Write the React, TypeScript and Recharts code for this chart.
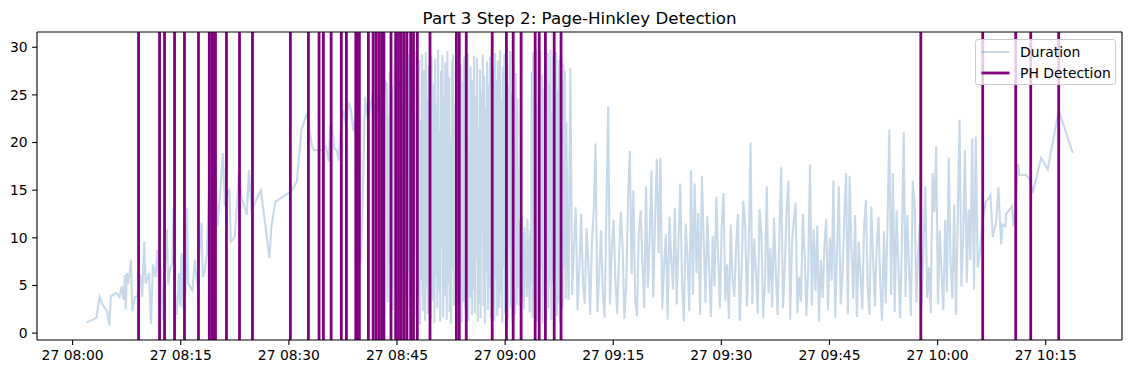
import { Legend, Line, LineChart, ReferenceLine, XAxis, YAxis } from "recharts";

const FONT = "DejaVu Sans, Liberation Sans, sans-serif";

// minutes after 27 08:00
const earlyMinutes = [
  1.9, 3.3, 3.75, 4.2, 4.8, 5.1, 5.3, 6.05, 6.5, 6.8, 7.07, 7.26, 7.35, 7.54, 7.72, 7.9, 8.1, 8.27, 8.65, 9.0,
  9.38, 9.66, 9.94, 10.12, 10.3, 10.6, 10.87, 11.14, 11.5, 11.78, 11.97, 12.25, 12.53, 12.8, 13.08, 13.26, 13.54,
  13.82, 14.0, 14.19, 14.47, 14.75, 14.93, 15.11, 15.3, 15.48, 15.67, 15.86, 16.04, 16.6, 16.96, 17.24, 17.6,
  17.88, 18.07, 18.35, 18.63, 18.9, 19.18, 19.46, 19.82, 20.1, 20.47, 20.84, 21.12, 21.48, 21.76, 21.95, 22.5,
  22.79, 23.06, 23.43, 24.17, 24.45, 24.81, 26.11, 26.75, 27.3, 27.58, 28.14, 30.35, 31.1, 31.74, 32.49, 33.22,
  33.5, 33.96, 34.61, 35.16, 35.54, 35.72, 35.95, 36.3, 36.64, 36.9, 37.1, 37.56, 37.9, 38.26, 38.6, 38.95, 39.3,
  39.64, 40.0, 40.3, 40.57, 40.9, 41.26, 41.6, 41.9, 42.19, 42.5, 42.8, 43.1, 43.4,
];
const earlyValues = [
  1.1, 1.6, 3.8, 2.9, 2.3, 0.8, 3.9, 4.2, 3.8, 4.9, 3.5, 6.1, 2.5, 6.3, 5.2, 6.3, 7.7, 2.3, 3.8, 3.9,
  6.2, 3.8, 9.6, 5.2, 5.6, 6.3, 1.0, 7.2, 5.9, 8.8, 4.9, 6.8, 1.4, 6.7, 10.9, 5.1, 6.8,
  7.3, 13.1, 4.5, 1.9, 6.3, 2.8, 8.4, 2.6, 11.9, 4.2, 13.1, 5.2, 4.5, 7.7, 5.2, 8.4,
  11.6, 5.9, 6.6, 8.4, 14.7, 11.9, 13.6, 16.4, 11.2, 14.7, 18.9, 13.3, 14.7, 15.0, 9.6, 10.1,
  13.5, 16.8, 14.3, 12.4, 17.1, 12.9, 15.0, 11.2, 7.9, 11.2, 13.8, 14.9, 15.9, 21.3, 23.1, 19.6,
  19.2, 19.2, 19.2, 19.6, 18.0, 21.7, 21.9, 19.4, 19.2, 18.1, 20.5, 23.4, 22.0, 24.2, 23.5, 21.2, 22.8,
  20.1, 7.3, 16.0, 24.8, 22.6, 23.4, 25.1, 22.4, 23.0, 25.4, 21.8, 24.0, 26.4,
];

// dense burst, one reading every 0.1 min from 08:43.6
const burstStart = 43.6;
const burstStep = 0.1;
const burstValues = [
  26.1, 3.2, 22.8, 7.5, 27.4, 1.8, 18.6, 5.1, 25.9, 2.4,
  28.3, 4.6, 21.7, 1.2, 27.8, 9.3, 29.1, 3.0, 16.4, 1.6,
  28.9, 5.8, 24.3, 2.1, 29.4, 11.2, 3.6, 27.2, 1.4, 20.8,
  6.4, 29.2, 2.7, 25.6, 13.9, 1.1, 28.5, 4.2, 23.1, 8.7,
  29.6, 1.9, 26.8, 3.8, 17.5, 28.7, 0.9, 22.4, 5.5, 29.3,
  2.3, 27.6, 10.4, 1.3, 29.5, 4.9, 24.7, 2.0, 28.1, 7.2,
  19.8, 1.5, 29.0, 3.4, 26.2, 12.6, 1.0, 28.8, 6.1, 23.9,
  2.6, 29.7, 4.4, 21.3, 1.2, 27.5, 8.9, 29.2, 1.7, 25.0,
  3.9, 28.4, 15.2, 1.4, 29.6, 5.3, 26.9, 2.2, 20.5, 1.0,
  28.6, 6.8, 29.3, 2.9, 24.1, 11.7, 1.6, 27.9, 4.0, 29.5,
  1.8, 22.7, 7.4, 28.2, 1.1, 26.4, 3.3, 29.0, 13.4, 2.5,
  27.1, 5.0, 29.4, 1.3, 18.9, 3.7, 28.0, 9.6, 1.9, 26.6,
  4.5, 29.1, 2.1, 24.8, 7.9, 28.9, 1.2, 21.6, 3.1, 27.7,
  1.6, 25.3, 10.8, 29.2, 2.8, 27.0, 1.0, 23.5, 6.3, 28.5,
  2.4, 26.1, 4.8, 29.0, 1.5, 19.7, 3.6, 27.8, 8.2, 1.3,
  29.4, 5.7, 26.5, 1.8, 28.6, 12.1, 2.6, 29.7, 4.1, 24.4,
  1.1, 27.9, 7.0, 29.3, 2.0, 22.9, 3.5, 28.4, 1.4, 26.0,
  9.1, 29.6, 2.7, 25.2, 1.2, 28.8, 5.6, 20.3, 1.9, 27.3,
  3.0, 24.6, 4.7, 11.8, 2.9, 9.4, 5.8, 12.3, 3.4, 10.6,
  2.5, 11.1, 6.2, 8.7, 3.8, 12.0, 4.6, 9.9, 2.2, 10.8,
  5.1, 27.4, 1.6, 29.5, 3.3, 26.7, 7.6, 29.8, 1.2, 24.0,
  4.3, 28.9, 2.1, 29.6, 6.7, 27.2, 1.0, 25.8, 3.9, 29.9,
  1.7, 28.1, 10.2, 29.4, 2.6, 26.3, 4.9, 29.7, 1.4, 23.2,
  5.4, 29.2, 2.3, 27.6, 8.0, 29.5, 1.8, 25.5, 3.2, 28.7,
  1.1, 29.1, 4.6, 26.9, 2.7, 28.3, 6.9, 27.5, 3.6, 22.1,
  12.8,
];

// steady stretch, one reading every 0.25 min from 09:08.8
const steadyStart = 68.8;
const steadyStep = 0.25;
const steadyValues = [
  3.5, 27.8, 4.0, 9.2, 13.2, 2.4, 6.8, 12.5, 5.3, 3.1,
  11.0, 7.4, 1.9, 9.6, 13.0, 19.9, 2.2, 6.1, 10.8, 4.4,
  1.6, 12.8, 23.8, 3.0, 8.7, 11.9, 5.6, 2.0, 7.8, 12.7,
  9.1, 1.5, 4.9, 13.9, 19.1, 6.2, 15.0, 3.4, 1.8, 10.6,
  12.9, 7.3, 2.6, 15.4, 4.8, 9.9, 17.1, 3.7, 11.6, 18.3,
  8.4, 18.4, 2.5, 6.9, 10.4, 1.4, 12.2, 7.6, 4.6, 13.1,
  3.0, 9.5, 15.7, 5.1, 1.2, 11.5, 8.0, 2.3, 17.1, 4.0,
  15.7, 6.3, 12.6, 1.9, 16.5, 9.8, 3.2, 12.3, 6.7, 1.7,
  10.2, 4.9, 14.3, 8.1, 2.6, 11.3, 14.7, 3.4, 7.2, 1.5,
  11.4, 5.7, 3.8, 9.1, 12.5, 1.3, 6.0, 13.9, 11.7, 2.8,
  8.8, 20.0, 3.1, 9.9, 6.4, 2.0, 13.0, 10.6, 1.6, 5.2,
  15.4, 4.2, 8.9, 2.7, 12.1, 6.5, 1.9, 10.3, 17.4, 2.6,
  7.0, 12.7, 16.0, 1.4, 9.4, 11.8, 13.7, 2.1, 5.9, 3.3,
  12.5, 8.3, 1.8, 6.8, 17.7, 2.9, 10.9, 4.4, 11.3, 1.2,
  7.7, 3.7, 9.2, 12.0, 2.4, 10.0, 5.5, 16.0, 1.6, 8.6,
  15.4, 3.0, 6.1, 11.9, 16.8, 2.0, 16.5, 8.8, 3.6, 12.4,
  1.7, 9.6, 6.3, 2.5, 11.1, 14.0, 4.7, 1.9, 13.3, 7.9,
  2.8, 9.0, 12.2, 5.0, 1.3, 10.7, 3.1, 11.6, 21.4, 4.0,
  16.8, 2.2, 12.9, 7.1, 1.6, 9.7, 21.1, 3.8, 12.4, 6.6,
  1.8, 16.0, 13.8, 3.2, 8.5, 11.5, 2.9, 9.5, 15.4, 3.7,
  6.9, 2.1, 16.8, 12.7, 19.6, 3.0, 10.8, 6.2, 2.4, 11.9,
  4.3, 18.4, 7.4, 3.6, 13.5, 1.9, 12.3, 22.4, 4.9, 9.8,
  19.2, 5.3, 13.0, 7.7, 20.4, 4.6, 20.6, 6.9, 8.0,
];

const tailMinutes = [
  126.27, 126.7, 126.96, 127.33, 127.65, 128.12, 128.44, 128.81, 129.0, 129.41, 129.5, 130.33, 130.52,
  130.8, 131.17, 131.35, 132.28, 132.88, 133.2, 134.36, 135.28, 136.8, 138.74,
];
const tailValues = [
  11.9, 13.8, 14.0, 14.5, 10.1, 11.7, 15.3, 9.3, 11.4, 11.2, 12.5, 13.3, 11.2,
  13.1, 17.8, 16.6, 16.6, 16.0, 14.7, 18.4, 17.2, 23.4, 18.9,
];

const detectionMinutes = [
  9.15, 12.06, 12.75, 14.14, 15.52, 17.46, 18.96, 19.3, 19.62, 19.82, 21.34, 23.15, 24.95, 30.21, 32.71,
  34.19, 34.79, 35.86, 37.28, 37.98, 39.28, 39.53, 39.78, 41.03, 41.69, 42.08, 42.47, 42.86, 43.19, 44.17,
  44.82, 45.21, 45.6, 45.99, 46.38, 46.9, 47.29, 47.82, 49.58, 53.24, 53.64, 54.61, 58.21, 60.18, 61.12,
  62.22, 64.17, 64.73, 65.59, 66.81, 67.76, 117.67, 126.26, 130.84, 132.92, 136.8,
];

const xTicks = [0, 15, 30, 45, 60, 75, 90, 105, 120, 135];
const xTickLabels = [
  "27 08:00", "27 08:15", "27 08:30", "27 08:45", "27 09:00",
  "27 09:15", "27 09:30", "27 09:45", "27 10:00", "27 10:15",
];
const yTicks = [0, 5, 10, 15, 20, 25, 30];
const legendLabels = ["Duration", "PH Detection"];

const data = [
  ...earlyMinutes.map((t, i) => ({ t, duration: earlyValues[i] })),
  ...burstValues.map((v, i) => ({ t: +(burstStart + i * burstStep).toFixed(2), duration: v })),
  ...steadyValues.map((v, i) => ({ t: +(steadyStart + i * steadyStep).toFixed(2), duration: v })),
  ...tailMinutes.map((t, i) => ({ t, duration: tailValues[i] })),
];

const tFirst = data[0].t;
const tLast = data[data.length - 1].t;
const tPad = (tLast - tFirst) * 0.05;
const xDomain = [tFirst - tPad, tLast + tPad];
const yDomain = [-0.72, 31.6];

const DUR_COLOR = "#4682b4";
const PH_COLOR = "#800080";

function LegendBox() {
  const rows = [
    { color: DUR_COLOR, opacity: 0.3, width: 2.1 },
    { color: PH_COLOR, opacity: 1, width: 2.8 },
  ];
  return (
    <div
      style={{
        position: "relative",
        width: 139,
        height: 44,
        background: "rgba(255,255,255,0.8)",
        border: "1px solid #cccccc",
        borderRadius: 3,
        fontFamily: FONT,
        fontSize: 13.9,
        color: "#000",
      }}
    >
      {legendLabels.map((label, i) => (
        <div key={label} style={{ position: "absolute", left: 0, top: 4 + i * 20.7, height: 16, width: 139 }}>
          <svg width={30} height={16} style={{ position: "absolute", left: 5, top: 0 }}>
            <line x1={0.5} x2={28.5} y1={8} y2={8} stroke={rows[i].color} strokeOpacity={rows[i].opacity} strokeWidth={rows[i].width} />
          </svg>
          <span style={{ position: "absolute", left: 44, top: 0, lineHeight: "16px", whiteSpace: "nowrap" }}>{label}</span>
        </div>
      ))}
    </div>
  );
}

export default function App() {
  const tickStyle = { fontFamily: FONT, fontSize: 13.9, fill: "#000" };
  const frame = { stroke: "#000", strokeWidth: 1.1 };
  return (
    <div style={{ position: "absolute", left: 0, top: 0, width: 1132, height: 374, background: "#fff" }}>
      <svg width={1132} height={32} style={{ position: "absolute", left: 0, top: 0 }}>
        <text x={579.6} y={23.5} textAnchor="middle" fontFamily={FONT} fontSize={16.7} fill="#000">
          Part 3 Step 2: Page-Hinkley Detection
        </text>
      </svg>
      <LineChart width={1132} height={374} data={data} margin={{ top: 32, right: 10, bottom: 4, left: 0 }}>
        <XAxis
          dataKey="t"
          type="number"
          domain={xDomain}
          allowDataOverflow
          ticks={xTicks}
          interval={0}
          tickFormatter={(v: number) => xTickLabels[xTicks.indexOf(v)] ?? ""}
          height={30}
          tickSize={4.9}
          tickMargin={5.7}
          tick={tickStyle}
          axisLine={frame}
          tickLine={frame}
        />
        <YAxis
          type="number"
          domain={yDomain}
          allowDataOverflow
          ticks={yTicks}
          interval={0}
          width={37}
          tickSize={4.9}
          tickMargin={4.5}
          tick={tickStyle}
          axisLine={frame}
          tickLine={frame}
        />
        <Line
          type="linear"
          dataKey="duration"
          name="Duration"
          stroke={DUR_COLOR}
          strokeOpacity={0.3}
          strokeWidth={2.1}
          dot={false}
          activeDot={false}
          isAnimationActive={false}
        />
        {detectionMinutes.map((m) => (
          <ReferenceLine key={m} x={m} stroke={PH_COLOR} strokeWidth={2.8} ifOverflow="hidden" />
        ))}
        {/* top and right spines */}
        <ReferenceLine y={yDomain[1]} stroke="#000" strokeWidth={1.1} />
        <ReferenceLine x={xDomain[1]} stroke="#000" strokeWidth={1.1} />
        <Legend
          layout="horizontal"
          align="center"
          verticalAlign="middle"
          content={() => <LegendBox />}
          wrapperStyle={{ left: 975, top: 39, width: 141, height: 46, bottom: "auto", right: "auto" }}
        />
      </LineChart>
    </div>
  );
}
